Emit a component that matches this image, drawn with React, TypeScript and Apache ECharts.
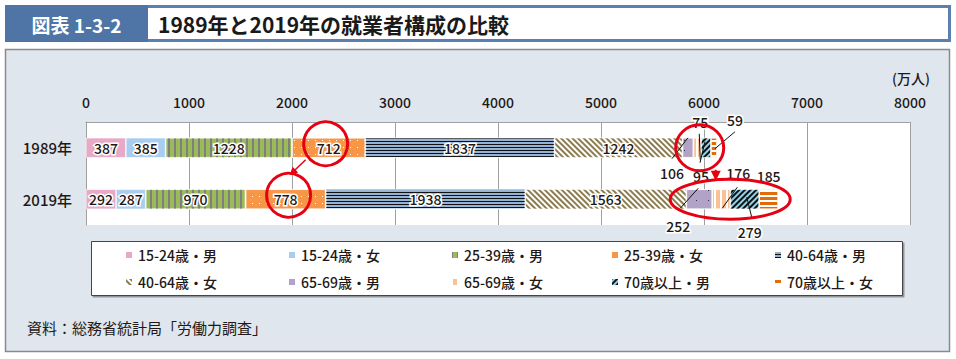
import React, { useEffect, useRef } from 'react';
import * as echarts from 'echarts';

// ---------- data ----------
const categories = ['1989年', '2019年'];
const seriesNames = [
  '15-24歳・男', '15-24歳・女', '25-39歳・男', '25-39歳・女', '40-64歳・男',
  '40-64歳・女', '65-69歳・男', '65-69歳・女', '70歳以上・男', '70歳以上・女',
];
const values1989 = [387, 385, 1228, 712, 1837, 1242, 106, 75, 95, 59];
const values2019 = [292, 287, 970, 778, 1938, 1563, 252, 176, 279, 185];
const axisMin = 0;
const axisMax = 8000;
const axisStep = 1000;
const unitLabel = '(万人)';
const headerTag = '図表 1-3-2';
const titleText = '1989年と2019年の就業者構成の比較';
const sourceText = '資料：総務省統計局「労働力調査」';

// ---------- styles ----------
const FONT = '"Noto Sans CJK JP", "Noto Sans", sans-serif';
const TXT = '#231815';
const RED = '#e60012';

const vStripe = (color: string, w: number, gap: number) => ({
  symbol: 'rect', symbolSize: 1, symbolKeepAspect: false,
  dashArrayX: [w, gap], dashArrayY: [1, 0], color,
});
const hStripe = (color: string, h: number, gap: number, rotation = 0) => ({
  symbol: 'rect', symbolSize: 1, symbolKeepAspect: false,
  dashArrayX: [1, 0], dashArrayY: [h, gap], rotation, color,
});
const dots = (color: string, gx: number, gy: number) => ({
  symbol: 'rect', symbolSize: 1, symbolKeepAspect: false,
  dashArrayX: [1, gx], dashArrayY: [1, gy], color,
});

const seriesStyles: any[] = [
  { color: '#e8a9c7' },
  { color: '#a7cdf1' },
  { color: '#9bbb59', decal: vStripe('#7f7f7f', 2, 4) },
  { color: '#f79646', decal: dots('#ffffff', 6, 6) },
  { color: '#95b3d7', decal: hStripe('#111111', 1, 2) },
  { color: '#ffffff', decal: hStripe('#8c7b4e', 2, 2, Math.PI / 4) },
  { color: '#b3a2c7', decal: dots('#333333', 11, 9) },
  { color: '#fac294', decal: vStripe('#ffffff', 2, 4) },
  { color: '#8fd3ea', decal: hStripe('#111111', 2, 2, -Math.PI / 4) },
  { color: '#e36c09', decal: hStripe('#ffffff', 2, 3) },
];

// label offsets / leader lines for the small segments: key = series-category
const smallLabels: Record<string, { off: [number, number]; line?: [number, number, number, number] }> = {
  '6-0': { off: [-16, 25], line: [-16, 11, 0, -10] },
  '7-0': { off: [3, -26], line: [2, -14, 3, 12] },
  '8-0': { off: [-5, 28], line: [-6, 15, -1, -6] },
  '9-0': { off: [21, -28], line: [21, -16, 1, 1] },
  '6-1': { off: [-21, 27], line: [-19, 9, -1, -11] },
  '7-1': { off: [17, -26], line: [16, -12, 1, 9] },
  '8-1': { off: [5, 33], line: [7, 18, 2, -2] },
  '9-1': { off: [0, -23] },
};

const legendCols = [124, 287, 450, 610, 773];
const legendRows = [247, 274];

function buildOption(): any {
  const rows = [values1989, values2019];
  const series = seriesNames.map((name, si) => ({
    name,
    type: 'bar',
    stack: 'total',
    barWidth: 20,
    itemStyle: { ...seriesStyles[si], borderColor: '#ffffff', borderWidth: 0.6 },
    label: {
      show: true,
      position: 'inside',
      color: TXT,
      fontSize: 14,
      fontWeight: 500,
      fontFamily: FONT,
      textBorderColor: '#ffffff',
      textBorderWidth: 3,
    },
    data: rows.map((r, ci) => {
      const cfg = smallLabels[`${si}-${ci}`];
      return cfg
        ? { value: r[si], label: { offset: cfg.off } }
        : { value: r[si] };
    }),
  }));

  return {
    animation: false,
    textStyle: { fontFamily: FONT },
    grid: {
      left: 86, right: 46, top: 122, height: 103,
      show: true, backgroundColor: '#ffffff', borderWidth: 0,
    },
    xAxis: {
      type: 'value', position: 'top',
      min: axisMin, max: axisMax, interval: axisStep,
      axisLine: { show: true, lineStyle: { color: '#a0a0a0' } },
      axisTick: { show: false },
      splitLine: { show: true, lineStyle: { color: '#a0a0a0' } },
      axisLabel: {
        margin: 13, fontSize: 14, fontWeight: 500, color: TXT, fontFamily: FONT,
        formatter: (v: number) => String(v),
      },
    },
    yAxis: {
      type: 'category', inverse: true, data: categories,
      axisLine: { show: true, lineStyle: { color: '#a0a0a0' } },
      axisTick: { show: false },
      axisLabel: { margin: 14, fontSize: 15, fontWeight: 500, color: TXT, fontFamily: FONT },
    },
    legend: seriesNames.map((n, i) => ({
      data: [n],
      left: legendCols[i % 5],
      top: legendRows[Math.floor(i / 5)],
      itemWidth: 8, itemHeight: 8, itemGap: 0, padding: 0,
      icon: 'rect',
      selectedMode: false,
      z: 6,
      textStyle: { fontSize: 14, fontWeight: 500, color: TXT, fontFamily: FONT, lineHeight: 16 },
    })),
    series,
  };
}

function arrowHead(x1: number, y1: number, x2: number, y2: number, len: number, half: number) {
  const dx = x2 - x1, dy = y2 - y1;
  const d = Math.hypot(dx, dy) || 1;
  const ux = dx / d, uy = dy / d;
  const bx = x2 - ux * len, by = y2 - uy * len;
  return [[x2, y2], [bx - uy * half, by + ux * half], [bx + uy * half, by - ux * half]];
}

function buildGraphic(chart: any): any[] {
  const rows = [values1989, values2019];
  const px = (v: number, c: number) => chart.convertToPixel({ gridIndex: 0 }, [v, c]) as number[];
  const cum = (si: number, ci: number) => {
    const r = rows[ci];
    let s = 0;
    for (let k = 0; k < si; k++) s += r[k];
    return s;
  };
  const segCenter = (si: number, ci: number) => px(cum(si, ci) + rows[ci][si] / 2, ci);
  const segStart = (si: number, ci: number) => px(cum(si, ci), ci);
  const total = (ci: number) => px(rows[ci].reduce((a, b) => a + b, 0), ci);

  const g: any[] = [];
  // panel background
  g.push({
    type: 'rect', z: -10, silent: true,
    shape: { x: 5.5, y: 49.5, width: 944, height: 302 },
    style: { fill: '#dfe6ee', stroke: '#8a8a8a', lineWidth: 1.5 },
  });
  // header
  g.push({
    type: 'rect', z: -10, silent: true,
    shape: { x: 6.5, y: 6.5, width: 943, height: 34 },
    style: { fill: '#ffffff', stroke: '#5a7fb0', lineWidth: 3 },
  });
  g.push({
    type: 'rect', z: -9, silent: true,
    shape: { x: 5, y: 5, width: 143, height: 37 },
    style: { fill: '#4f75a7' },
  });
  g.push({
    type: 'text', z: -8, silent: true, x: 76.5, y: 24,
    style: { text: headerTag, fill: '#ffffff', font: `bold 19px ${FONT}`, align: 'center', verticalAlign: 'middle' },
  });
  g.push({
    type: 'text', z: -8, silent: true, x: 158, y: 24,
    style: { text: titleText, fill: '#1a1a1a', font: `bold 21px ${FONT}`, align: 'left', verticalAlign: 'middle' },
  });
  // unit
  g.push({
    type: 'text', z: 5, silent: true, x: 911, y: 78,
    style: { text: unitLabel, fill: TXT, font: `500 14px ${FONT}`, align: 'center', verticalAlign: 'middle' },
  });
  // legend box
  g.push({
    type: 'rect', z: 1, silent: true,
    shape: { x: 91.5, y: 241.5, width: 811, height: 54 },
    style: { fill: '#ffffff', stroke: '#444444', lineWidth: 1, shadowColor: 'rgba(0,0,0,0.35)', shadowOffsetX: 1.5, shadowOffsetY: 1.5, shadowBlur: 1 },
  });
  // source
  g.push({
    type: 'text', z: 5, silent: true, x: 27, y: 327,
    style: { text: sourceText, fill: TXT, font: `15px ${FONT}`, align: 'left', verticalAlign: 'middle' },
  });

  // leader lines
  Object.keys(smallLabels).forEach((key) => {
    const cfg = smallLabels[key];
    if (!cfg.line) return;
    const [si, ci] = key.split('-').map(Number);
    const [cx, cy] = segCenter(si, ci);
    g.push({
      type: 'line', z: 15, silent: true,
      shape: { x1: cx + cfg.line[0], y1: cy + cfg.line[1], x2: cx + cfg.line[2], y2: cy + cfg.line[3] },
      style: { stroke: '#111111', lineWidth: 1 },
    });
  });

  // red annotations
  const c1 = segCenter(3, 0);
  const c2 = segCenter(3, 1);
  const k1 = [c1[0] - 3, c1[1] - 4];
  const k2 = [c2[0] + 3, c2[1] - 4];
  const redStroke = { stroke: RED, lineWidth: 3, fill: 'none' };
  g.push({ type: 'circle', z: 20, silent: true, shape: { cx: k1[0], cy: k1[1], r: 22 }, style: redStroke });
  g.push({ type: 'circle', z: 20, silent: true, shape: { cx: k2[0], cy: k2[1], r: 22 }, style: redStroke });
  const a1 = [k1[0] - 20, k1[1] + 16];
  const a2 = [k2[0] + 1, k2[1] - 20];
  g.push({ type: 'line', z: 20, silent: true, shape: { x1: a1[0], y1: a1[1], x2: a2[0] + 3, y2: a2[1] - 3 }, style: { stroke: RED, lineWidth: 1.5 } });
  g.push({ type: 'polygon', z: 20, silent: true, shape: { points: arrowHead(a1[0], a1[1], a2[0], a2[1], 8, 4) }, style: { fill: RED } });

  const t0s = segStart(6, 0), t0e = total(0);
  const t1s = segStart(6, 1), t1e = total(1);
  const e1 = [(t0s[0] + t0e[0]) / 2, t0s[1]];
  const e2 = [(t1s[0] + t1e[0]) / 2 - 2, t1s[1]];
  g.push({ type: 'ellipse', z: 20, silent: true, shape: { cx: e1[0], cy: e1[1], rx: 24, ry: 23 }, style: redStroke });
  g.push({ type: 'ellipse', z: 20, silent: true, shape: { cx: e2[0], cy: e2[1], rx: 60, ry: 20 }, style: redStroke });
  const ax = e1[0] + 16;
  g.push({ type: 'line', z: 20, silent: true, shape: { x1: ax, y1: e1[1] + 22, x2: ax, y2: e1[1] + 25 }, style: { stroke: RED, lineWidth: 2 } });
  g.push({ type: 'polygon', z: 20, silent: true, shape: { points: [[ax, e1[1] + 33], [ax - 5, e1[1] + 23], [ax + 5, e1[1] + 23]] }, style: { fill: RED } });

  return g;
}

export default function App() {
  const ref = useRef<HTMLDivElement>(null);
  useEffect(() => {
    document.body.style.margin = '0';
    const chart = echarts.init(ref.current!, null, { renderer: 'svg' });
    chart.setOption(buildOption());
    chart.setOption({ graphic: buildGraphic(chart) });
    return () => chart.dispose();
  }, []);
  return <div ref={ref} style={{ width: 956, height: 359 }} />;
}
